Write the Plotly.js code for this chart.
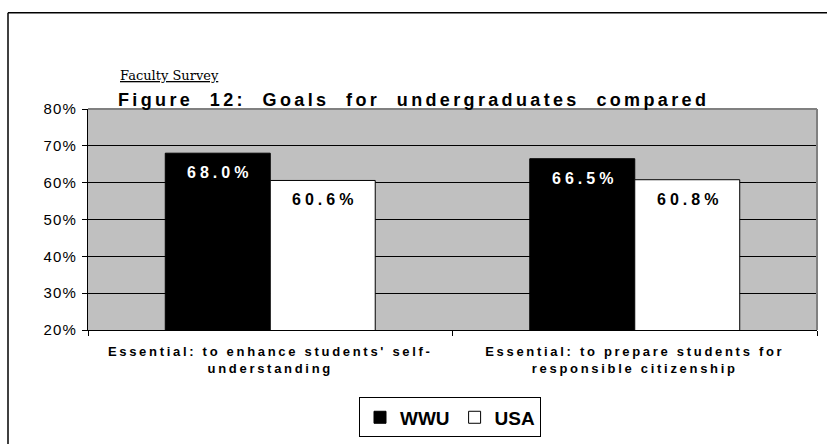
<!DOCTYPE html>
<html>
<head>
<meta charset="utf-8">
<script src="https://cdn.plot.ly/plotly-3.0.1.min.js"></script>
<style>
  html, body { margin: 0; padding: 0; background: #ffffff; }
  #chart { width: 827px; height: 448px; }
</style>
</head>
<body>
<div id="chart"></div>
<script>
// ---- data ----
const categories = [
  "Essential: to enhance students' self-<br>understanding",
  "Essential: to prepare students for<br>responsible citizenship"
];
const seriesNames = ["WWU", "USA"];
const wwuValues = [0.680, 0.665];
const usaValues = [0.606, 0.608];
const yTickVals = [0.2, 0.3, 0.4, 0.5, 0.6, 0.7, 0.8];
const yTickText = ["20%", "30%", "40%", "50%", "60%", "70%", "80%"];
const subtitle = "Faculty Survey";
const titleText = "Figure 12: Goals for undergraduates compared";

// ---- layout helpers ----
const W = 827, H = 448;
const M = { l: 88, r: 10, t: 109, b: 114 };
const pw = W - M.l - M.r, ph = H - M.t - M.b;
const px = x => (x - M.l) / pw;           // pixel -> paper x
const py = y => (H - M.b - y) / ph;       // pixel -> paper y
const sp = (t, s) => '<span style="letter-spacing:' + s + 'px">' + t + '</span>';

const bargap = 0.424;
const barW = (1 - bargap) / 2;

const traces = [
  {
    type: 'bar', name: seriesNames[0], x: categories, y: wwuValues,
    marker: { color: '#000000', line: { color: '#000000', width: 1 } },
    hoverinfo: 'none'
  },
  {
    type: 'bar', name: seriesNames[1], x: categories, y: usaValues,
    marker: { color: '#ffffff', line: { color: '#000000', width: 1 } },
    hoverinfo: 'none'
  }
];

const annotations = [];
[wwuValues, usaValues].forEach((vals, si) => {
  vals.forEach((v, ci) => {
    annotations.push({
      xref: 'x', yref: 'y',
      x: ci + (si === 0 ? -barW / 2 : barW / 2),
      y: v, yanchor: 'top', xanchor: 'center',
      yshift: -9, xshift: 2,
      showarrow: false,
      text: sp((v * 100).toFixed(1) + '%', 4),
      font: { family: 'Liberation Sans, Arial, sans-serif', size: 16, weight: 'bold',
              color: si === 0 ? '#ffffff' : '#000000' }
    });
  });
});
annotations.push({
  xref: 'paper', yref: 'paper', x: px(118), y: py(75),
  xanchor: 'left', yanchor: 'middle', showarrow: false,
  text: '<u>' + subtitle + '</u>',
  font: { family: 'DejaVu Serif, serif', size: 13, color: '#000000' }
});
annotations.push({
  xref: 'paper', yref: 'paper', x: px(116), y: py(100),
  xanchor: 'left', yanchor: 'middle', showarrow: false,
  text: sp(titleText.replace(/ /g, '  '), 3.35),
  font: { family: 'Liberation Sans, Arial, sans-serif', size: 18, weight: 'bold', color: '#000000' }
});

const layout = {
  width: W, height: H,
  margin: M,
  paper_bgcolor: '#ffffff',
  plot_bgcolor: '#c0c0c0',
  showlegend: true,
  barmode: 'group',
  bargap: bargap,
  bargroupgap: 0,
  font: { family: 'Liberation Sans, Arial, sans-serif', color: '#000000' },
  xaxis: {
    type: 'category',
    tickvals: categories,
    ticktext: categories.map(c => sp(c, 2.7)),
    tickfont: { size: 13, weight: 'bold', color: '#000000' },
    ticklabelstandoff: 9,
    showline: true, linecolor: '#000000', linewidth: 1,
    ticks: 'outside', tickson: 'boundaries', ticklen: 5, tickcolor: '#000000',
    showgrid: false, zeroline: false, fixedrange: true
  },
  yaxis: {
    range: [0.2, 0.8],
    tickvals: yTickVals,
    ticktext: yTickText.map(t => sp(t, 1.2)),
    tickfont: { size: 15, color: '#000000' },
    ticklabelstandoff: 2,
    showline: true, linecolor: '#000000', linewidth: 1,
    ticks: 'outside', ticklen: 5, tickcolor: '#000000',
    showgrid: true, gridcolor: '#000000', gridwidth: 1,
    zeroline: false, fixedrange: true
  },
  legend: {
    orientation: 'h',
    x: px(450), xanchor: 'center',
    y: py(423), yanchor: 'middle',
    bordercolor: '#000000', borderwidth: 1,
    bgcolor: '#ffffff',
    font: { size: 19, weight: 'bold', color: '#000000' },
    itemwidth: 30,
    traceorder: 'normal'
  },
  annotations: annotations,
  shapes: [
    // plot-area top and right border (grey)
    { type: 'line', xref: 'paper', yref: 'paper', x0: 0, x1: 1, y0: 1, y1: 1,
      line: { color: '#808080', width: 2 } },
    { type: 'line', xref: 'paper', yref: 'paper', x0: 1, x1: 1, y0: 0, y1: 1,
      line: { color: '#808080', width: 2 } },
    // outer frame (top and left visible)
    { type: 'line', xref: 'paper', yref: 'paper', x0: px(8), x1: px(830), y0: py(11), y1: py(11),
      line: { color: '#000000', width: 1.5 } },
    { type: 'line', xref: 'paper', yref: 'paper', x0: px(8), x1: px(8), y0: py(11), y1: py(450),
      line: { color: '#000000', width: 1.5 } }
  ]
};

Plotly.newPlot('chart', traces, layout, { displayModeBar: false, staticPlot: true });
</script>
</body>
</html>
